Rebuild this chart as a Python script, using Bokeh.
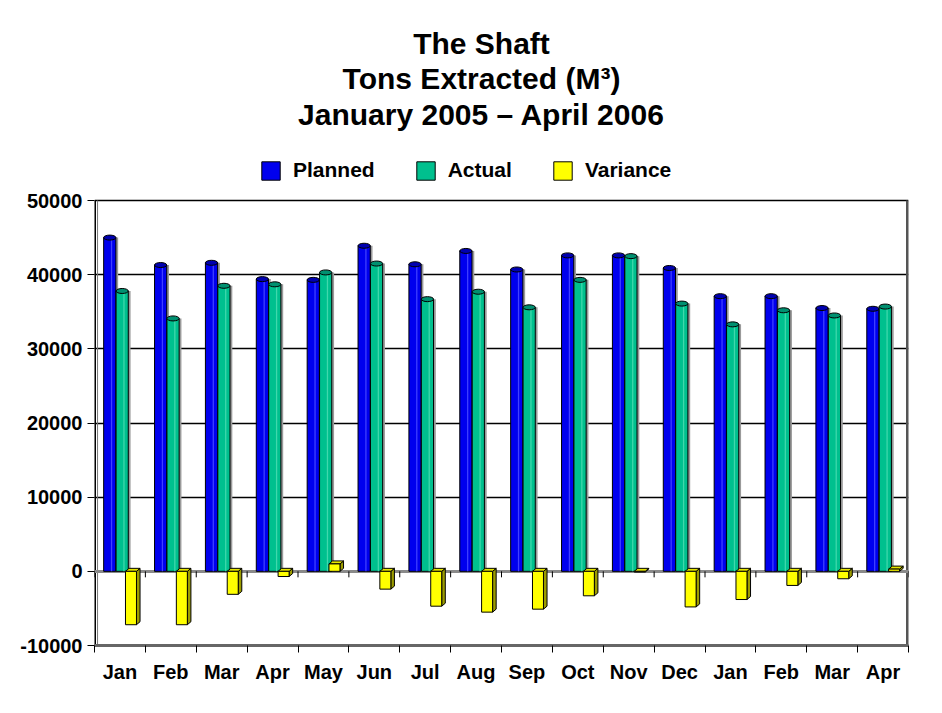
from bokeh.plotting import figure
from bokeh.models import (ColumnDataSource, FixedTicker, NumeralTickFormatter, Label,
                          Legend, LegendItem, Range1d)
from bokeh.embed import file_html
from bokeh.resources import INLINE

# ---------------- data ----------------
months = ["Jan", "Feb", "Mar", "Apr", "May", "Jun", "Jul", "Aug",
          "Sep", "Oct", "Nov", "Dec", "Jan", "Feb", "Mar", "Apr"]
planned = [45000, 41300, 41600, 39400, 39300, 43900, 41400, 43200,
           40700, 42600, 42600, 40900, 37100, 37100, 35500, 35400]
actual = [37800, 34100, 38500, 38700, 40300, 41500, 36700, 37700,
          35600, 39300, 42500, 36100, 33300, 35200, 34500, 35700]
variance = [-7200, -7200, -3100, -700, 1000, -2400, -4700, -5500,
            -5100, -3300, -100, -4800, -3800, -1900, -1000, 300]
y_ticks = [-10000, 0, 10000, 20000, 30000, 40000, 50000]
series_names = ["Planned", "Actual", "Variance"]
title_lines = ["The Shaft", "Tons Extracted (M\u00b3)", "January 2005 \u2013 April 2006"]

FONT = "Liberation Sans"
n = len(months)
centers = [i + 0.5 for i in range(n)]
bounds = list(range(n + 1))
y_min, y_max = y_ticks[0], y_ticks[-1]

# ---------------- layout (pixels) ----------------
W, H = 934, 705
BORDER_L, BORDER_R, BORDER_B, BORDER_T = 94, 26, 60, 8
PLOT_TOP_PX = 200                      # where the value axis maximum sits
frame_bottom = H - BORDER_B
units_per_px = (y_max - y_min) / (frame_bottom - PLOT_TOP_PX)
y_top = y_min + (frame_bottom - BORDER_T) * units_per_px   # room for titles/legend


def px_to_y(py):
    return y_min + (frame_bottom - py) * units_per_px


BW = 0.24          # cylinder width (category units)
VW = 0.216         # variance box width
DX = 0.07          # 3d depth in x
DY = 3 * units_per_px

p = figure(width=W, height=H, output_backend="svg", toolbar_location=None,
           x_range=Range1d(0, n), y_range=Range1d(y_min, y_top),
           min_border_left=BORDER_L, min_border_right=BORDER_R,
           min_border_bottom=BORDER_B, min_border_top=BORDER_T,
           background_fill_color="white", border_fill_color="white")

# grid / walls
p.xgrid.visible = False
p.ygrid.ticker = FixedTicker(ticks=y_ticks)
p.ygrid.grid_line_color = "black"
p.ygrid.grid_line_width = 1.5
p.outline_line_color = None
p.segment(x0=[n], y0=[y_min], x1=[n], y1=[y_max], line_color="#555555", line_width=5)
p.segment(x0=[0], y0=[y_min], x1=[0], y1=[y_max], line_color="black", line_width=3)
p.segment(x0=[0.06], y0=[y_min], x1=[0.06], y1=[y_max], line_color="#777777", line_width=1)

# zero shelf
p.hspan(y=[0], line_color="#8a8a8a", line_width=3)
p.segment(x0=bounds, y0=[0] * len(bounds), x1=bounds, y1=[-6 * units_per_px] * len(bounds),
          line_color="black", line_width=1)

# ---------------- cylinders ----------------
def cylinders(offset, vals, body, light, cap):
    xs = [c + offset for c in centers]
    src = ColumnDataSource(dict(x=xs, top=vals,
                                xs_sh=[x + 0.045 for x in xs],
                                xs_hl=[x + 0.035 for x in xs]))
    p.vbar(x="xs_sh", top="top", bottom=0, width=BW, source=src,
           fill_color="#9a9a9a", line_color=None)
    r = p.vbar(x="x", top="top", bottom=0, width=BW, source=src,
               fill_color=body, line_color="black", line_width=1)
    p.vbar(x="xs_hl", top="top", bottom=0, width=0.025, source=src,
           fill_color=light, line_color=None)
    p.ellipse(x="x", y="top", width=BW, height=5, height_units="screen", source=src,
              fill_color=cap, line_color="black", line_width=1)
    return r

r_plan = cylinders(-0.2, planned, "#0000EE", "#4040FF", "#0000B0")
r_act = cylinders(0.044, actual, "#00C08E", "#40D8AC", "#009070")

# ---------------- variance boxes ----------------
vx = [c + 0.217 for c in centers]
side_xs, side_ys, top_xs, top_ys = [], [], [], []
for x, v in zip(vx, variance):
    xl, xr = x - VW / 2, x + VW / 2
    t, b = max(0, v), min(0, v)
    side_xs.append([xr, xr + DX, xr + DX, xr])
    side_ys.append([t, t + DY, b + DY, b])
    top_xs.append([xl, xl + DX, xr + DX, xr])
    top_ys.append([t, t + DY, t + DY, t])
p.patches(xs=side_xs, ys=side_ys, fill_color="#9C9C00", line_color="black", line_width=1)
p.patches(xs=top_xs, ys=top_ys, fill_color="#E6E600", line_color="black", line_width=1)
r_var = p.vbar(x=vx, top=variance, bottom=0, width=VW,
               fill_color="#FFFF00", line_color="black", line_width=1)

# ---------------- axes ----------------
yax = p.yaxis[0]
yax.ticker = FixedTicker(ticks=y_ticks)
yax.formatter = NumeralTickFormatter(format="0")
yax.major_label_text_font = FONT
yax.major_label_text_font_style = "bold"
yax.major_label_text_font_size = "20px"
yax.major_label_text_color = "black"
yax.major_tick_out = 7
yax.major_tick_in = 0
yax.major_tick_line_color = "black"
yax.minor_tick_line_color = None
yax.axis_line_color = None
yax.major_label_standoff = 5

xax = p.xaxis[0]
xax.ticker = FixedTicker(ticks=centers, minor_ticks=bounds)
xax.major_label_overrides = {c: m for c, m in zip(centers, months)}
xax.major_label_text_font = FONT
xax.major_label_text_font_style = "bold"
xax.major_label_text_font_size = "20px"
xax.major_label_text_color = "black"
xax.major_tick_out = 0
xax.major_tick_in = 0
xax.minor_tick_out = 7
xax.minor_tick_in = 0
xax.minor_tick_line_color = "black"
xax.axis_line_color = "#666666"
xax.axis_line_width = 3
xax.major_label_standoff = 8

# ---------------- legend ----------------
items = [LegendItem(label=nm, renderers=[r]) for nm, r in zip(series_names, [r_plan, r_act, r_var])]
legend = Legend(items=items, orientation="horizontal",
                location=(259 - BORDER_L, frame_bottom - 182),
                glyph_width=23, glyph_height=23, label_standoff=11, spacing=39,
                label_text_font=FONT, label_text_font_style="bold",
                label_text_font_size="21px", label_text_color="black",
                border_line_color=None, background_fill_alpha=0,
                padding=0, margin=0)
p.add_layout(legend, "center")

# ---------------- title lines ----------------
title_x = (481 - BORDER_L) / (W - BORDER_L - BORDER_R) * n
for line, py in zip(title_lines, [42.5, 78, 113.5]):
    p.add_layout(Label(x=title_x, y=px_to_y(py), text=line,
                       text_align="center", text_baseline="middle",
                       text_font=FONT, text_font_style="bold", text_font_size="30px",
                       text_color="black"))

open("out.html", "w").write(file_html(p, INLINE))
